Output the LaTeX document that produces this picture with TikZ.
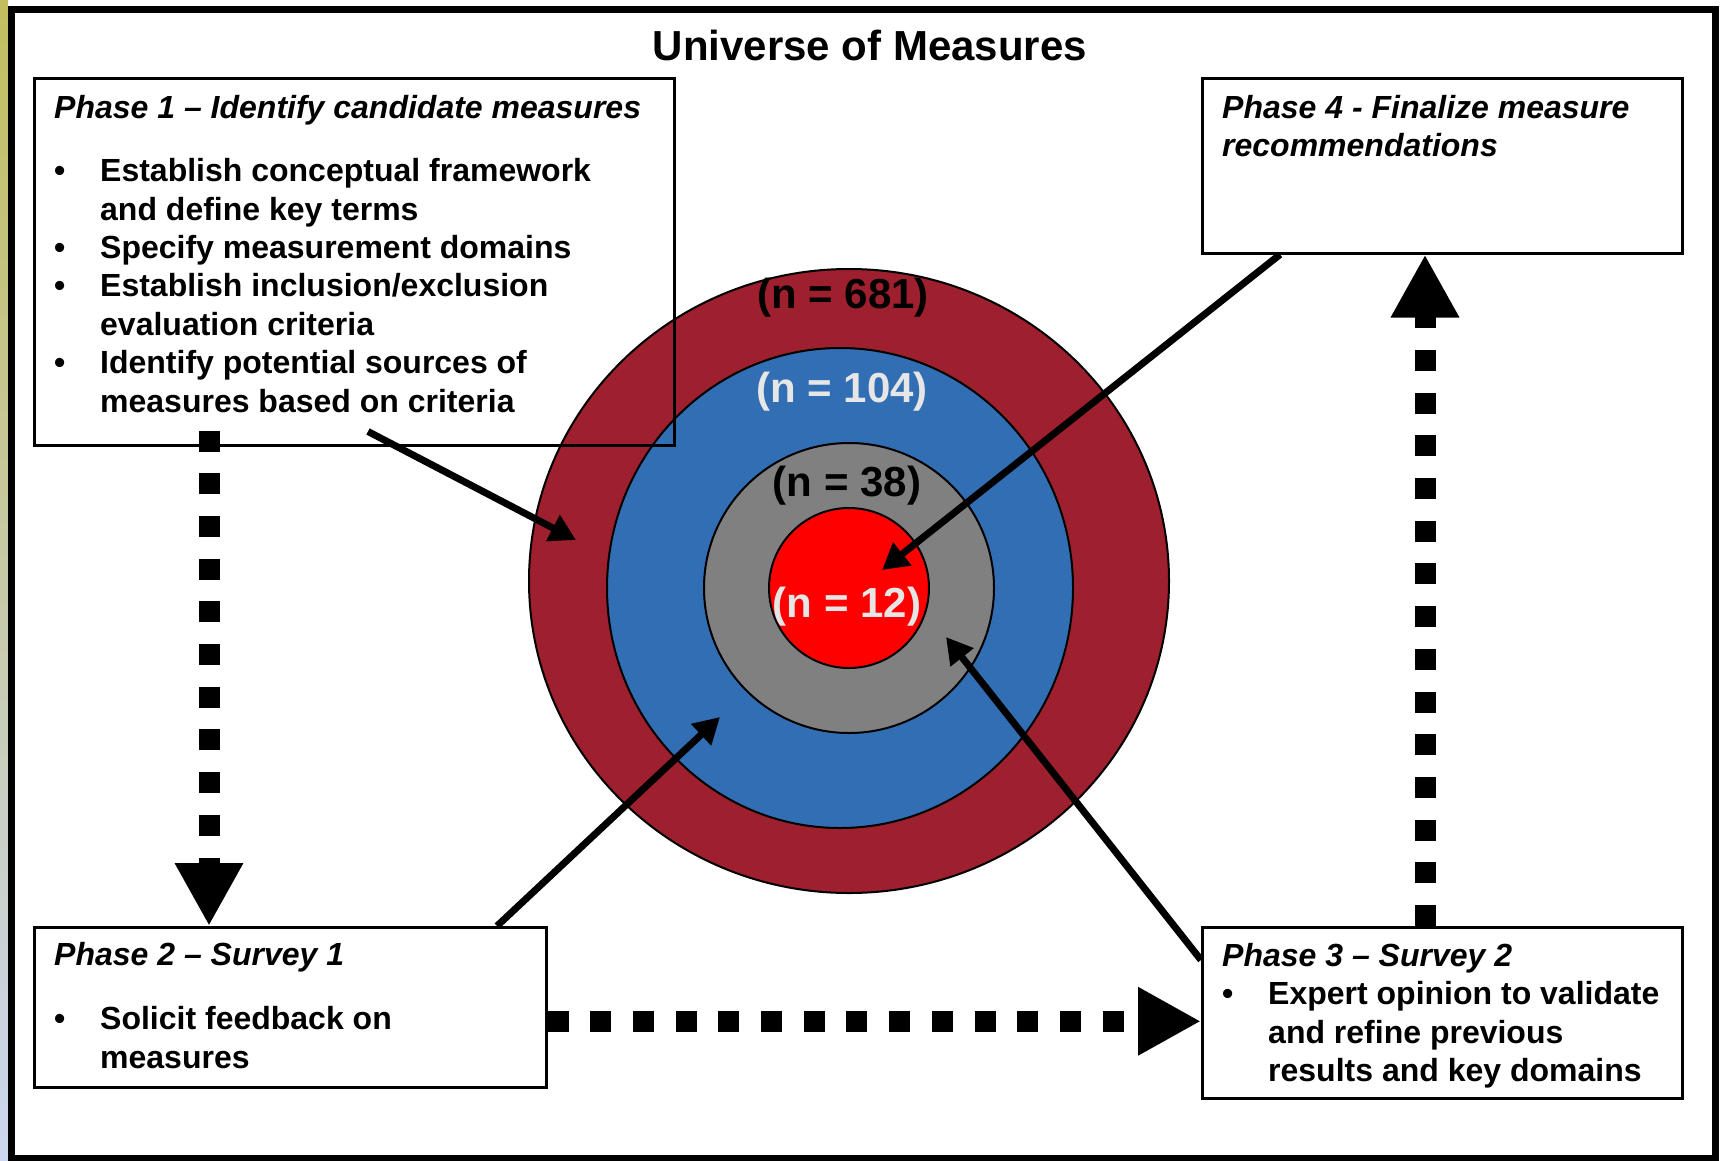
\documentclass[tikz,border=0pt]{standalone}
\usepackage{fontspec}
\setmainfont{Liberation Sans}
\usetikzlibrary{arrows.meta}

\definecolor{ringmaroon}{HTML}{9E1F2E}
\definecolor{ringblue}{HTML}{316EB4}
\definecolor{ringgray}{HTML}{808080}
\definecolor{ringred}{HTML}{FF0000}
\definecolor{lightlabel}{HTML}{E6E6E6}
\definecolor{stripolive}{HTML}{C2BE5E}
\definecolor{stripblue}{HTML}{CCD6F0}

\newcommand{\phbullet}{\makebox[46pt][l]{\textbullet}}
\newcommand{\phindent}{\hspace*{46pt}}

\begin{document}
\begin{tikzpicture}[x=1pt, y=-1pt,
    phbox/.style={draw, line width=2.5pt, inner sep=0pt, anchor=north west},
    phtext/.style={anchor=north west, inner sep=0pt, align=left,
        font=\fontsize{32}{38.4}\selectfont\bfseries},
    ringlabel/.style={anchor=base, inner sep=0pt, font=\fontsize{42}{50}\selectfont\bfseries},
    ptr/.style={line width=7pt, -{Triangle[width=28pt,length=26pt]}},
    dotarrow/.style={line width=21pt, dash pattern=on 21pt off 21.7pt,
        -{Triangle[width=64pt,length=63pt]}}]
\useasboundingbox (0,0) rectangle (1724,1160);
\shade[top color=stripolive, middle color=stripolive!60!white, bottom color=stripblue] (0,0) rectangle (8,1160);
\draw[line width=7pt] (11.5,9) rectangle (1715,1158);

\node[anchor=base, font=\fontsize{42}{50}\selectfont\bfseries] (title) at (870,60) {Universe of Measures};

% target
\draw[line width=2pt, fill=ringmaroon] (849,581) ellipse [x radius=320pt, y radius=312pt];
\draw[line width=2pt, fill=ringblue] (840,588) ellipse [x radius=233pt, y radius=240pt];
\draw[line width=2pt, fill=ringgray] (849,588) circle [radius=145pt];
\draw[line width=2pt, fill=ringred] (849,588) circle [radius=80pt];

\node[ringlabel] (n681) at (843,308) {(n = 681)};
\node[ringlabel, text=lightlabel] (n104) at (842,402) {(n = 104)};
\node[ringlabel] (n38) at (847,496) {(n = 38)};
\node[ringlabel, text=lightlabel] (n12) at (847,617) {(n = 12)};

\coordinate (hit681) at (576,540);
\coordinate (hit104) at (720,717);
\coordinate (hit38) at (946,637);
\coordinate (hit12) at (882,570);

% phase boxes
\node[phbox, minimum width=640pt, minimum height=367pt] (ph1) at (33,77) {};
\node[phbox, minimum width=480pt, minimum height=175pt] (ph4) at (1201,77) {};
\node[phbox, minimum width=512pt, minimum height=160pt] (ph2) at (33,926) {};
\node[phbox, minimum width=480pt, minimum height=171pt] (ph3) at (1201,926) {};

\node[phtext] (ph1text) at (54,95) {\textit{Phase 1 – Identify candidate measures}\\[25pt]
    \phbullet Establish conceptual framework\\
    \phindent and define key terms\\
    \phbullet Specify measurement domains\\
    \phbullet Establish inclusion/exclusion\\
    \phindent evaluation criteria\\
    \phbullet Identify potential sources of\\
    \phindent measures based on criteria};
\node[phtext] (ph4text) at (1222,95) {\textit{Phase 4 - Finalize measure}\\
    \textit{recommendations}};
\node[phtext] (ph2text) at (54,942) {\textit{Phase 2 – Survey 1}\\[26pt]
    \phbullet Solicit feedback on\\
    \phindent measures};
\node[phtext] (ph3text) at (1222,943) {\textit{Phase 3 – Survey 2}\\
    \phbullet Expert opinion to validate\\
    \phindent and refine previous\\
    \phindent results and key domains};

% connectors
\draw[dotarrow] ([xshift=176pt,yshift=16pt]ph1.south west) -- ([xshift=176pt]ph2.north west);
\draw[dotarrow] ([yshift=-14pt]ph2.east) -- ([yshift=-14pt]ph2.east -| ph3.west);
\draw[dotarrow] ([xshift=224pt]ph3.north west) -- ([xshift=224pt]ph4.south west);

\draw[ptr] ([xshift=335pt,yshift=15pt]ph1.south west) -- (hit681);
\draw[ptr] ([xshift=464pt]ph2.north west) -- (hit104);
\draw[ptr] ([yshift=-34pt]ph3.north west) -- (hit38);
\draw[ptr] ([xshift=79pt]ph4.south west) -- (hit12);
\end{tikzpicture}
\end{document}
